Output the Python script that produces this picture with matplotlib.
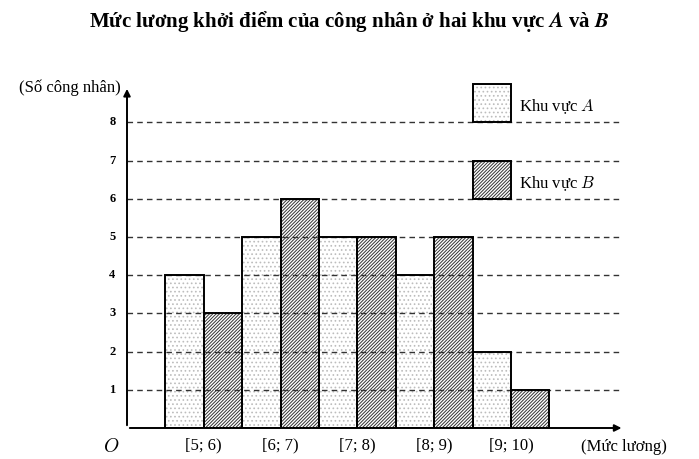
import matplotlib
matplotlib.use("Agg")
import matplotlib.pyplot as plt
import numpy as np

# data
groups = ["[5; 6)", "[6; 7)", "[7; 8)", "[8; 9)", "[9; 10)"]
khu_vuc_a = [4, 5, 5, 4, 2]
khu_vuc_b = [3, 6, 5, 5, 1]
y_ticks = [1, 2, 3, 4, 5, 6, 7, 8]

plt.rcParams['font.family'] = ['Liberation Serif', 'DejaVu Serif']
plt.rcParams['mathtext.fontset'] = 'cm'
plt.rcParams['hatch.linewidth'] = 0.7

W, H = 699, 459
fig = plt.figure(figsize=(W / 100, H / 100), dpi=100)
unit_x, unit_y = 38.4, 38.2
x0, y0 = 127, 428
xmax, ymax = 13.5, 9.2
ax = fig.add_axes([x0 / W, (H - y0) / H, xmax * unit_x / W, ymax * unit_y / H])
ax.set_xlim(0, xmax)
ax.set_ylim(0, ymax)
ax.axis('off')

dots = '....'
lines = '/' * 10


def hatched_bar(x, h, bottom, pattern, hcolor):
    ax.bar(x, h, bottom=bottom, width=1, align='edge', color='white',
           edgecolor=hcolor, hatch=pattern, lw=0, zorder=2)
    ax.bar(x, h, bottom=bottom, width=1, align='edge', fill=False,
           edgecolor='black', lw=1.4, zorder=4)


# grid lines
for t in y_ticks:
    ax.plot([0, 12.9], [t, t], ls=(0, (4, 3)), color='#333333', lw=1.0, zorder=3)
    ax.text(-0.3, t, str(t), ha='right', va='center', fontsize=9, fontweight='bold')

# bars
xa = 1 + 2 * np.arange(len(groups))
xb = xa + 1
hatched_bar(xa, khu_vuc_a, 0, dots, '#bdbdbd')
hatched_bar(xb, khu_vuc_b, 0, lines, '#333333')

for x, g in zip(xb, groups):
    ax.text(x, -0.25, g, ha='center', va='top', fontsize=12)

# legend boxes
hatched_bar([9], [1], 8, dots, '#bdbdbd')
hatched_bar([9], [1], 6, lines, '#333333')
ax.text(10.2, 8.4, r"Khu vực $A$", ha='left', va='center', fontsize=12)
ax.text(10.2, 6.4, r"Khu vực $B$", ha='left', va='center', fontsize=12)

# axes arrows
for tip in [(0, 8.95), (12.95, 0)]:
    ax.annotate('', xy=tip, xytext=(0, 0),
                arrowprops=dict(arrowstyle='-|>', color='black', lw=1.4, mutation_scale=10),
                annotation_clip=False, zorder=5)

ax.text(-0.4, -0.25, r"$O$", ha='center', va='top', fontsize=14)
ax.text(-0.15, 8.92, "(Số công nhân)", ha='right', va='center', fontsize=12)
ax.text(12.95, -0.3, "(Mức lương)", ha='center', va='top', fontsize=12)

fig.text(0.5, 1 - 22 / H, r"Mức lương khởi điểm của công nhân ở hai khu vực $\mathbfit{A}$ và $\mathbfit{B}$",
         ha='center', va='center', fontsize=15, fontweight='bold')

fig.savefig('out.png', dpi=100)
